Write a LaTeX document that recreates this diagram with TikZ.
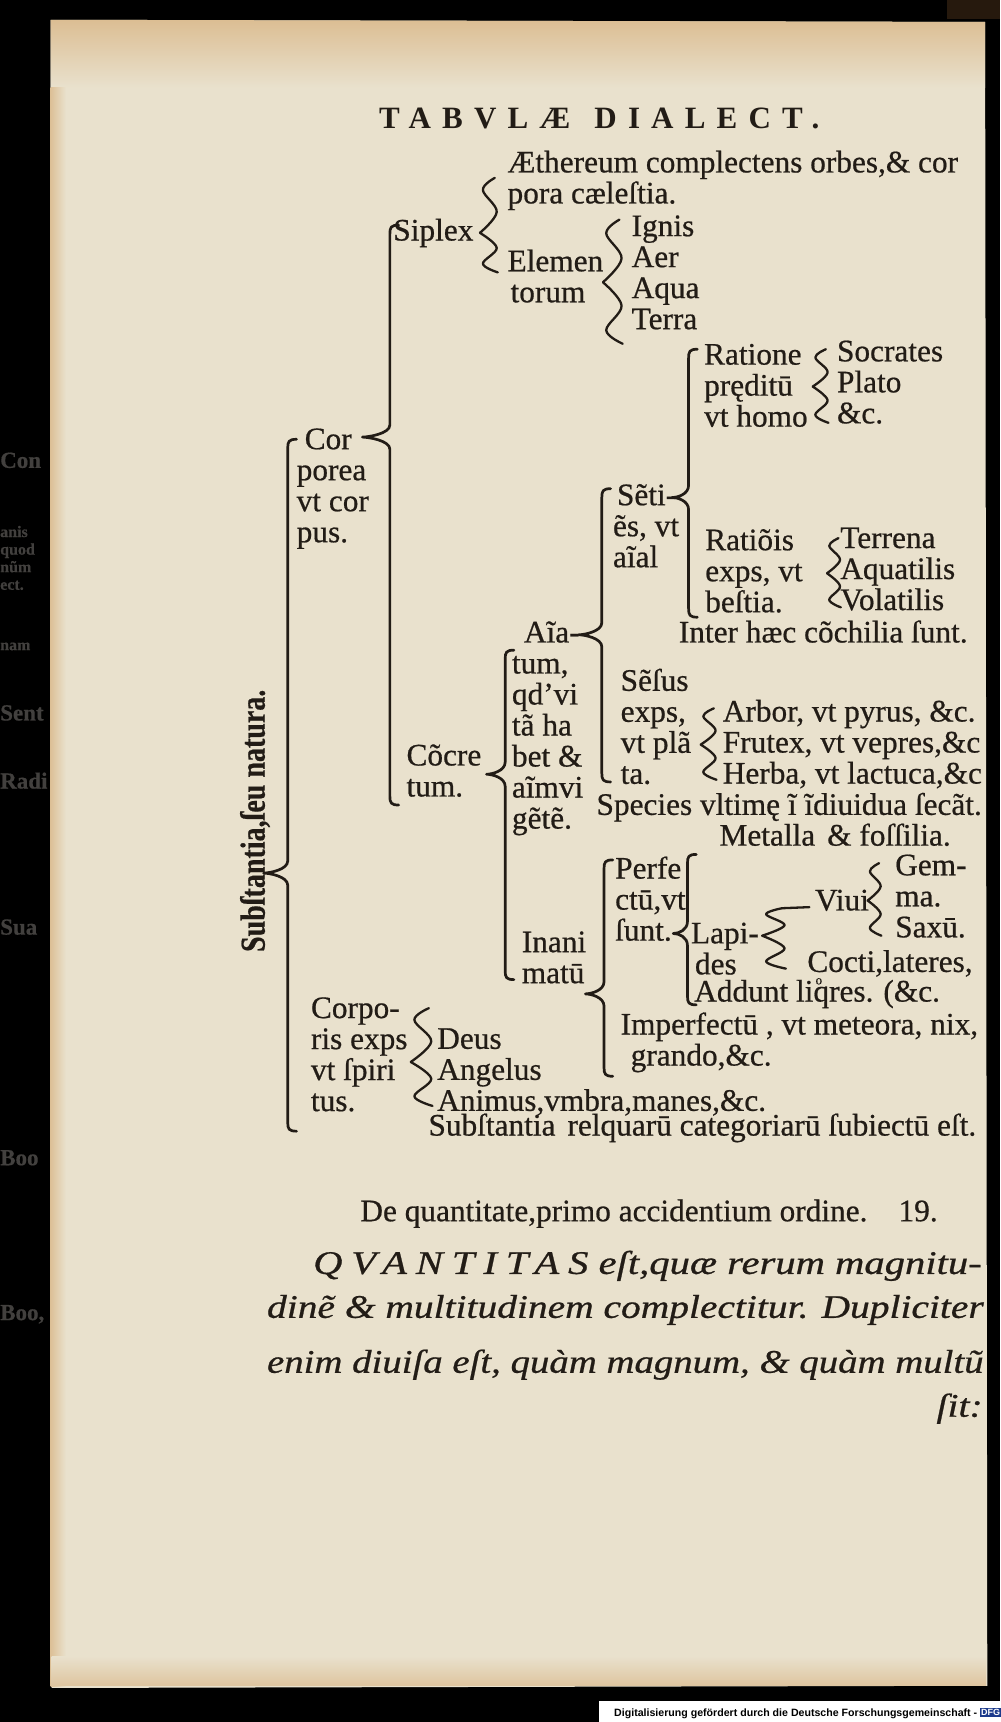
\documentclass[tikz,border=0pt]{standalone}
\usepackage{fontspec}
\usepackage{graphicx}
\setmainfont{Liberation Serif}[FakeBold=0.6]
\newfontfamily\capsfont[LetterSpace=36]{Liberation Serif}
\newfontfamily\sansfont{Liberation Sans}
\usetikzlibrary{positioning}
\definecolor{paper}{RGB}{233,225,205}
\definecolor{ink}{RGB}{34,28,22}
\definecolor{fox}{RGB}{215,178,128}
\definecolor{margin}{RGB}{66,64,62}
\definecolor{dfgblue}{RGB}{28,58,140}

% lines of one entry, first baseline at the node's base
\newcommand\lns[1]{\vtop{\let\\\cr\baselineskip=31pt\lineskiplimit=-100pt\lineskip=0pt
  \halign{##\hfil\cr#1\crcr}}}
% brace built of straight rules: tip x, tip y, rule x, top y, bottom y
\newcommand\rulebrace[5]{%
  \draw[brc] (#3+8,#4) .. controls (#3+1,#4) and (#3,#4+2) .. (#3,#4+8)
    -- (#3,#2-11) .. controls (#3,#2-3) and (#1+5,#2) .. (#1,#2)
    .. controls (#1+5,#2) and (#3,#2+3) .. (#3,#2+11)
    -- (#3,#5-8) .. controls (#3,#5-2) and (#3+1,#5) .. (#3+8,#5);}
% curly brace: tip x, tip y, width, top y, bottom y
\newcommand\curlbrace[5]{%
  \draw[crl] plot[smooth, tension=0.6] coordinates {({#1+0.75*#3},#4)
      ({#1+0.15*#3},{#4+0.22*(#2-#4)}) ({#1+0.85*#3},{#4+0.62*(#2-#4)}) (#1,#2)}
    plot[smooth, tension=0.6] coordinates {(#1,#2)
      ({#1+0.85*#3},{#2+0.38*(#5-#2)}) ({#1+0.15*#3},{#2+0.78*(#5-#2)}) ({#1+0.9*#3},#5)};}

\begin{document}
\begin{tikzpicture}[x=1.0977pt, y=-1.0977pt,
  txt/.style={anchor=base west, inner sep=0pt, text=ink,
              font=\fontsize{31.3}{31}\selectfont},
  ital/.style={txt, font=\fontsize{33}{33}\selectfont\itshape},
  frag/.style={anchor=base west, inner sep=0pt, text=margin,
               font=\fontsize{23}{23}\selectfont\bfseries},
  small/.style={frag, font=\fontsize{16}{16}\selectfont\bfseries},
  brc/.style={draw=ink, line width=2.7pt, line cap=round, line join=round},
  crl/.style={draw=ink, line width=2.3pt, line cap=round, line join=round}
]
\fill[black] (0,0) rectangle (911,1568);
\useasboundingbox (0,0) rectangle (911,1568);

% facing page, cut off at the gutter
\node[frag] (f1) at (0,426) {Con};
\node[small] (f2) at (0,489) {anis};
\node[small] (f3) at (0,505) {quod};
\node[small] (f4) at (0,521) {nũm};
\node[small] (f5) at (0,537) {ect.};
\node[small] (f6) at (0,592) {nam};
\node[frag] (f7) at (0,656) {Sent};
\node[frag] (f8) at (0,718) {Radi};
\node[frag] (f9) at (0,851) {Sua};
\node[frag] (f10) at (0,1061) {Boo};
\node[frag] (f11) at (0,1202) {Boo,};

% the leaf
\fill[paper] (46,18) -- (897,20) -- (899,1535) -- (47,1537) -- cycle;
\shade[top color=fox!75!paper, bottom color=paper] (46,18) -- (897,20) -- (897,80) -- (46,80) -- cycle;
\shade[left color=fox!70!paper, right color=paper] (46,80) rectangle (60,1536);
\shade[top color=paper, bottom color=fox!60!paper] (47,1508) rectangle (898,1535);
\fill[black!80!brown] (862,0) rectangle (911,17);

% scan credit
\fill[white] (545,1549) rectangle (911,1568);
\node[anchor=base east, inner sep=0pt, text=black, font=\fontsize{10.6}{12}\sansfont\bfseries]
  (credit) at (890,1563) {Digitalisierung gefördert durch die Deutsche Forschungsgemeinschaft -};
\node[anchor=west, fill=dfgblue, text=white, inner sep=1.2pt,
      font=\fontsize{9}{10}\sansfont\bfseries] (dfg) at (892,1559) {DFG};

% head line
\node[txt, font=\fontsize{31}{31}\capsfont\bfseries] (title) at (345,117) {TABVLÆ\hskip24pt DIALECT.};

% the table
\node[txt] (aeth) at (462,157) {\lns{Æthereum complectens orbes,\& cor\\pora cæleſtia.}};
\node[txt] (siplex) at (358,219) {Siplex};
\node[txt] (elem) at (462,247) {\lns{Elemen\\\hskip3pt torum}};
\node[txt] (ignis) at (575,215) {\lns{Ignis\\Aer\\Aqua\\Terra}};
\node[txt] (ratione) at (641,332) {\lns{Ratione\\pręditū\\vt homo}};
\node[txt] (socr) at (762,329) {\lns{Socrates\\Plato\\\&c.}};
\node[txt] (ratiois) at (642,501) {\lns{Ratiõis\\exps, vt\\beſtia.}};
\node[txt] (terr) at (765,499) {\lns{Terrena\\Aquatilis\\Volatilis}};
\node[txt] (inter) at (618,585) {Inter hæc cõchilia ſunt.};
\node[txt] (cor) at (270,409) {\lns{\hskip8pt Cor\\porea\\vt cor\\pus.}};
\node[txt] (concr) at (370,697) {\lns{Cõcre\\tum.}};
\node[txt] (aia) at (466,585) {\lns{\hskip12pt Aĩa-\\tum,\\qd’vi\\tã ha\\bet \&\\aĩmvi\\gẽtẽ.}};
\node[txt] (senti) at (558,460) {\lns{\hskip4pt Sẽti-\\ẽs, vt\\aĩal}};
\node[txt] (sensus) at (565,629) {\lns{Sẽſus\\exps,\\vt plã\\ta.}};
\node[txt] (arbor) at (658,657) {\lns{Arbor, vt pyrus, \&c.\\Frutex, vt vepres,\&c\\Herba, vt lactuca,\&c}};
\node[txt] (species) at (543,742) {Species vltimę ĩ ĩdiuidua ſecãt.};
\node[txt] (metalla) at (655,770) {Metalla\hskip12pt\& foſſilia.};
\node[txt] (perfe) at (560,800) {\lns{Perfe\\ctū,vt\\ſunt.}};
\node[txt] (inani) at (475,867) {\lns{Inani\\matū}};
\node[txt] (lapi) at (629,859) {\lns{Lapi-\\\hskip4pt des}};
\node[txt] (viui) at (742,829) {Viui};
\node[txt] (gem) at (815,797) {\lns{Gem-\\ma.\\Saxū.}};
\node[txt] (cocti) at (735,885) {Cocti,lateres,};
\node[txt] (addunt) at (632,912) {Addunt li\rlap{\raisebox{0.55em}{\fontsize{13}{13}\selectfont\,o}}qres.\hskip10pt(\&c.};
\node[txt] (imperf) at (565,942) {\lns{Imperfectū , vt meteora, nix,\\\hskip10pt grando,\&c.}};
\node[txt] (corporis) at (283,927) {\lns{Corpo-\\ris exps\\vt ſpiri\\tus.}};
\node[txt] (deus) at (398,955) {\lns{Deus\\Angelus\\Animus,vmbra,manes,\&c.}};
\node[txt] (subst) at (390,1034) {Subſtantia\hskip12pt relquarū categoriarū ſubiectū eſt.};
\node[txt, rotate=90] (natura) at (241,867)
  {\scalebox{0.8}[1]{\fontsize{35}{35}\selectfont\bfseries Subſtantia,ſeu natura.}};

\rulebrace{240}{795}{262}{400}{1030}
\rulebrace{330}{398}{355}{205}{733}
\curlbrace{437}{212}{18}{162}{248}
\curlbrace{549}{257}{20}{200}{313}
\rulebrace{443}{705}{460}{592}{892}
\rulebrace{527}{578}{548}{445}{712}
\rulebrace{612}{453}{627}{318}{562}
\curlbrace{740}{352}{16}{318}{385}
\curlbrace{753}{522}{14}{490}{553}
\curlbrace{638}{678}{16}{645}{710}
\rulebrace{533}{905}{550}{783}{980}
\rulebrace{613}{850}{626}{778}{915}
\curlbrace{694}{852}{24}{827}{882}
\draw[crl] (712,827) -- (737,826);
\curlbrace{790}{820}{14}{786}{852}
\curlbrace{374}{967}{22}{918}{1007}

% text below the table
\node[txt] (dequant) at (328,1112) {De quantitate,primo accidentium ordine.};
\node[txt] (folio) at (818,1112) {19.};
\node[ital] (quant) at (285,1160) {\scalebox{1.23}[1]{{\addfontfeatures{LetterSpace=22}QVANTITAS} eſt,quæ rerum magnitu-}};
\node[ital] (dine) at (243,1200) {\scalebox{1.195}[1]{dinẽ \& multitudinem complectitur. Dupliciter}};
\node[ital] (enim) at (243,1250) {\scalebox{1.175}[1]{enim diuiſa eſt, quàm magnum, \& quàm multũ}};
\node[ital, anchor=base east] (sit) at (895,1290) {\scalebox{1.2}[1]{ſit:}};
\end{tikzpicture}
\end{document}
